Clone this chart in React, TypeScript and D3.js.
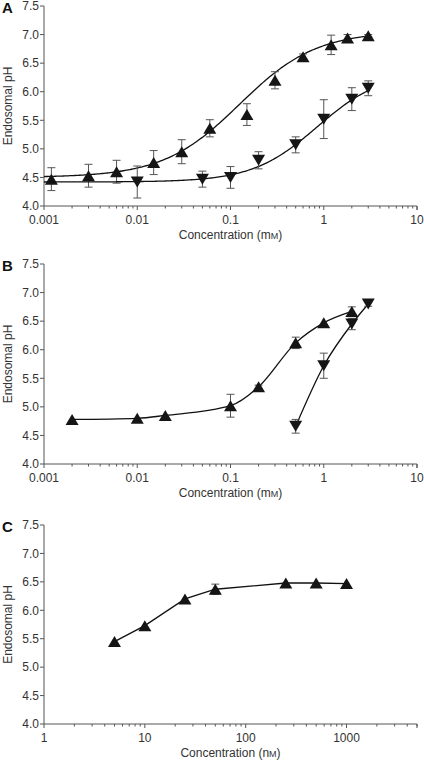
import React from 'react';
import * as d3 from 'd3';

const W = 424;
const H = 761;
const FONT = '"Liberation Sans", Arial, Helvetica, sans-serif';

// ---------- Panel A ----------
const aUpX = [0.0012, 0.003, 0.006, 0.015, 0.03, 0.06, 0.15, 0.3, 0.6, 1.2, 1.8, 3];
const aUpY = [4.47, 4.53, 4.6, 4.76, 4.95, 5.36, 5.6, 6.2, 6.61, 6.82, 6.94, 6.98];
const aUpErr = [0.2, 0.2, 0.2, 0.21, 0.21, 0.15, 0.19, 0.15, 0.05, 0.17, 0.06, 0.02];
const aDownX = [0.01, 0.05, 0.1, 0.2, 0.5, 1, 2, 3];
const aDownY = [4.42, 4.47, 4.5, 4.8, 5.07, 5.52, 5.87, 6.06];
const aDownErr = [0.28, 0.14, 0.19, 0.15, 0.14, 0.34, 0.2, 0.13];
// fitted logistic curves: [bottom, top, EC50, hill]
const aUpFit = [4.5, 7.06, 0.125, 1.06];
const aDownFit = [4.42, 6.35, 0.85, 1.25];

// ---------- Panel B ----------
const bUpX = [0.002, 0.01, 0.02, 0.1, 0.2, 0.5, 1, 2];
const bUpY = [4.78, 4.8, 4.85, 5.02, 5.35, 6.12, 6.47, 6.67];
const bUpErr = [0, 0, 0, 0.2, 0.03, 0.1, 0, 0.08];
const bDownX = [0.5, 1, 2, 3];
const bDownY = [4.66, 5.72, 6.45, 6.8];
const bDownErr = [0.12, 0.22, 0.1, 0.04];

// ---------- Panel C ----------
const cX = [5, 10, 25, 50, 250, 500, 1000];
const cY = [5.45, 5.73, 6.2, 6.37, 6.48, 6.48, 6.47];
const cErr = [0, 0, 0, 0.09, 0, 0, 0];

const yTicks = [4.0, 4.5, 5.0, 5.5, 6.0, 6.5, 7.0, 7.5];
const mmTickLabels = ['0.001', '0.01', '0.1', '1', '10'];
const nmTickLabels = ['1', '10', '100', '1000'];

const X0 = 44;
const X1 = 417;

type Series = {
  x: number[];
  y: number[];
  err: number[];
  dir: 'up' | 'down';
  line: 'fit' | 'smooth' | 'straight';
  fit?: number[];
};

const triPath = (dir: 'up' | 'down') =>
  dir === 'up' ? 'M0,-5.5L6.5,5.5L-6.5,5.5Z' : 'M0,5.5L6.5,-5.5L-6.5,-5.5Z';

function logistic(p: number[], x: number) {
  const [b, t, ec, h] = p;
  return b + (t - b) / (1 + Math.pow(ec / x, h));
}

function Panel(props: {
  letter: string;
  top: number;
  bottom: number;
  domain: [number, number];
  tickLabels: string[];
  unit: string;
  series: Series[];
}) {
  const { letter, top, bottom, domain, tickLabels, unit, series } = props;
  const x = d3.scaleLog().domain(domain).range([X0, X1]);
  const y = d3.scaleLinear().domain([4, 7.5]).range([bottom, top]);

  const majors = tickLabels.map((t) => +t);
  const allTicks = x.ticks().filter((t) => t >= domain[0] && t <= domain[1] * 1.0001);

  const lineGen = d3
    .line<[number, number]>()
    .x((d) => x(d[0]))
    .y((d) => y(d[1]));

  const axisColor = '#555';
  const textColor = '#333';

  return (
    <g>
      <text x={2} y={top + 7} fontFamily={FONT} fontWeight="bold" fontSize={15} fill="#111">
        {letter}
      </text>
      <text
        transform={`translate(12,${(top + bottom) / 2}) rotate(-90)`}
        textAnchor="middle"
        fontFamily={FONT}
        fontSize={12}
        fill={textColor}
      >
        Endosomal pH
      </text>
      {/* y axis */}
      <line x1={X0} x2={X0} y1={top} y2={bottom} stroke={axisColor} strokeWidth={1} />
      {yTicks.map((t) => (
        <g key={t}>
          <line x1={X0 - 4} x2={X0} y1={y(t)} y2={y(t)} stroke={axisColor} />
          <text
            x={X0 - 5}
            y={y(t)}
            dy="0.36em"
            textAnchor="end"
            fontFamily={FONT}
            fontSize={12}
            fill={textColor}
          >
            {t.toFixed(1)}
          </text>
        </g>
      ))}
      {/* x axis */}
      <line x1={X0} x2={X1} y1={bottom} y2={bottom} stroke={axisColor} strokeWidth={1} />
      {allTicks.map((t, i) => {
        const isMajor = majors.some((m) => Math.abs(m - t) / m < 1e-6);
        return (
          <line
            key={i}
            x1={x(t)}
            x2={x(t)}
            y1={bottom}
            y2={bottom + (isMajor ? 4 : 2.5)}
            stroke={axisColor}
          />
        );
      })}
      <line x1={X1} x2={X1} y1={bottom} y2={bottom + 4} stroke={axisColor} />
      {tickLabels.map((t) => (
        <text
          key={t}
          x={x(+t)}
          y={bottom + 18}
          textAnchor="middle"
          fontFamily={FONT}
          fontSize={12}
          fill={textColor}
        >
          {t}
        </text>
      ))}
      <text
        x={(X0 + X1) / 2}
        y={bottom + 33}
        textAnchor="middle"
        fontFamily={FONT}
        fontSize={12}
        fill={textColor}
      >
        Concentration ({unit}
        <tspan fontSize={9}>M</tspan>)
      </text>
      {/* series */}
      {series.map((s, si) => {
        let d = '';
        if (s.line === 'fit' && s.fit) {
          const xs = d3.range(0, 201).map((i) => {
            const lx = Math.log10(domain[0]) + (i / 200) * (Math.log10(s.x[s.x.length - 1]) - Math.log10(domain[0]));
            return Math.pow(10, lx);
          });
          d = lineGen.curve(d3.curveLinear)(xs.map((v) => [v, logistic(s.fit!, v)] as [number, number])) || '';
        } else {
          const pts = s.x.map((v, i) => [v, s.y[i]] as [number, number]);
          d =
            lineGen.curve(s.line === 'smooth' ? d3.curveMonotoneX : d3.curveLinear)(pts) || '';
        }
        return (
          <g key={si}>
            <path d={d} fill="none" stroke="#111" strokeWidth={1.3} />
            {s.x.map((v, i) =>
              s.err[i] > 0 ? (
                <g key={'e' + i} stroke="#555" strokeWidth={1}>
                  <line x1={x(v)} x2={x(v)} y1={y(s.y[i] - s.err[i])} y2={y(s.y[i] + s.err[i])} />
                  <line x1={x(v) - 4} x2={x(v) + 4} y1={y(s.y[i] - s.err[i])} y2={y(s.y[i] - s.err[i])} />
                  <line x1={x(v) - 4} x2={x(v) + 4} y1={y(s.y[i] + s.err[i])} y2={y(s.y[i] + s.err[i])} />
                </g>
              ) : null
            )}
            {s.x.map((v, i) => (
              <path
                key={'m' + i}
                d={triPath(s.dir)}
                transform={`translate(${x(v)},${y(s.y[i])})`}
                fill="#151515"
              />
            ))}
          </g>
        );
      })}
    </g>
  );
}

export default function App() {
  return (
    <svg
      width={W}
      height={H}
      viewBox={`0 0 ${W} ${H}`}
      style={{ position: 'absolute', left: 0, top: 0, background: '#fff' }}
    >
      <rect width={W} height={H} fill="#fff" />
      <Panel
        letter="A"
        top={6}
        bottom={206}
        domain={[0.001, 10]}
        tickLabels={mmTickLabels}
        unit="m"
        series={[
          { x: aUpX, y: aUpY, err: aUpErr, dir: 'up', line: 'fit', fit: aUpFit },
          { x: aDownX, y: aDownY, err: aDownErr, dir: 'down', line: 'fit', fit: aDownFit },
        ]}
      />
      <Panel
        letter="B"
        top={264}
        bottom={464}
        domain={[0.001, 10]}
        tickLabels={mmTickLabels}
        unit="m"
        series={[
          { x: bUpX, y: bUpY, err: bUpErr, dir: 'up', line: 'smooth' },
          { x: bDownX, y: bDownY, err: bDownErr, dir: 'down', line: 'smooth' },
        ]}
      />
      <Panel
        letter="C"
        top={525}
        bottom={724}
        domain={[1, 5000]}
        tickLabels={nmTickLabels}
        unit="n"
        series={[{ x: cX, y: cY, err: cErr, dir: 'up', line: 'straight' }]}
      />
    </svg>
  );
}
